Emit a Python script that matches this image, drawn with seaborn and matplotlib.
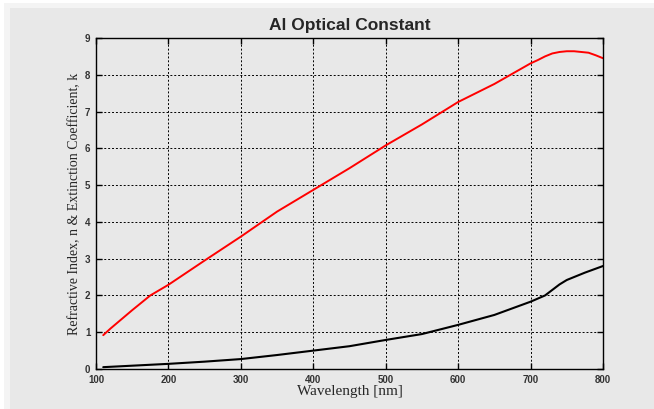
import matplotlib
matplotlib.use("Agg")
import matplotlib.pyplot as plt
from matplotlib.patches import Rectangle
import pandas as pd
import seaborn as sns

# wavelength grid (nm) and values
wl_n = [110, 120, 150, 175, 200, 250, 300, 350, 400, 450, 500, 550, 600, 650,
        700, 710, 720, 730, 740, 750, 760, 770, 780, 790, 800]
red_vals = [0.92, 1.1, 1.6, 2.0, 2.29, 2.95, 3.6, 4.28, 4.87, 5.46, 6.08, 6.65,
            7.26, 7.75, 8.31, 8.4, 8.5, 8.58, 8.62, 8.64, 8.64, 8.62, 8.6, 8.53, 8.45]

wl_k = [110, 150, 200, 250, 300, 350, 400, 450, 500, 550, 600, 650, 700, 720,
        740, 750, 775, 800]
black_vals = [0.05, 0.09, 0.14, 0.2, 0.27, 0.38, 0.5, 0.62, 0.79, 0.95, 1.2, 1.47,
              1.83, 2.0, 2.3, 2.42, 2.62, 2.8]

x_ticks = [100, 200, 300, 400, 500, 600, 700, 800]
y_ticks = [0, 1, 2, 3, 4, 5, 6, 7, 8, 9]

df_red = pd.DataFrame({"wl": wl_n, "val": red_vals})
df_black = pd.DataFrame({"wl": wl_k, "val": black_vals})

sns.set_theme(style="ticks")
plt.rcParams['font.family'] = ['Liberation Sans', 'DejaVu Sans']

bg = '#e8e8e8'
fig = plt.figure(figsize=(6.54, 4.09), dpi=100, facecolor='white')
# soft shadow edge at left/top, grey panel
fig.patches.append(Rectangle((4/654, 0), 1, 1 - 3/409, transform=fig.transFigure,
                             facecolor='#f4f4f4', edgecolor='none', zorder=-3))
fig.patches.append(Rectangle((10/654, 0), 1, 1 - 8/409, transform=fig.transFigure,
                             facecolor=bg, edgecolor='none', zorder=-2))

ax = fig.add_axes([96/654, 1 - 369/409, (603 - 96)/654, (369 - 38)/409])
ax.set_facecolor(bg)

sns.lineplot(data=df_red, x="wl", y="val", color='#ff0000', linewidth=1.4,
             errorbar=None, ax=ax)
sns.lineplot(data=df_black, x="wl", y="val", color='black', linewidth=1.5,
             errorbar=None, ax=ax)

ax.set_xlim(100, 800)
ax.set_ylim(0, 9)
ax.set_xticks(x_ticks)
ax.set_yticks(y_ticks)
ax.set_xticklabels([str(t) for t in x_ticks], fontsize=7, fontweight='bold',
                   color='#333333')
ax.set_yticklabels([str(t) for t in y_ticks], fontsize=7, fontweight='bold',
                   color='#333333')
ax.tick_params(direction='in', length=4, width=1, top=True, right=True,
               colors='black', labelcolor='#333333')
ax.tick_params(axis='x', pad=4)
ax.tick_params(axis='y', pad=4)

ax.grid(True, color='black', linestyle=(0, (2, 2)), linewidth=0.7)
for s in ax.spines.values():
    s.set_color('black')
    s.set_linewidth(1.0)

ax.set_title('Al Optical Constant', fontsize=12.5, fontweight='bold', pad=6)
ax.set_xlabel('Wavelength [nm]', family=['Liberation Serif'], fontsize=11,
              labelpad=0)
ax.set_ylabel('Refractive Index, n & Extinction Coefficient, k',
              family=['Liberation Serif'], fontsize=10, labelpad=3)

fig.savefig('out.png', dpi=100, facecolor=fig.get_facecolor())
